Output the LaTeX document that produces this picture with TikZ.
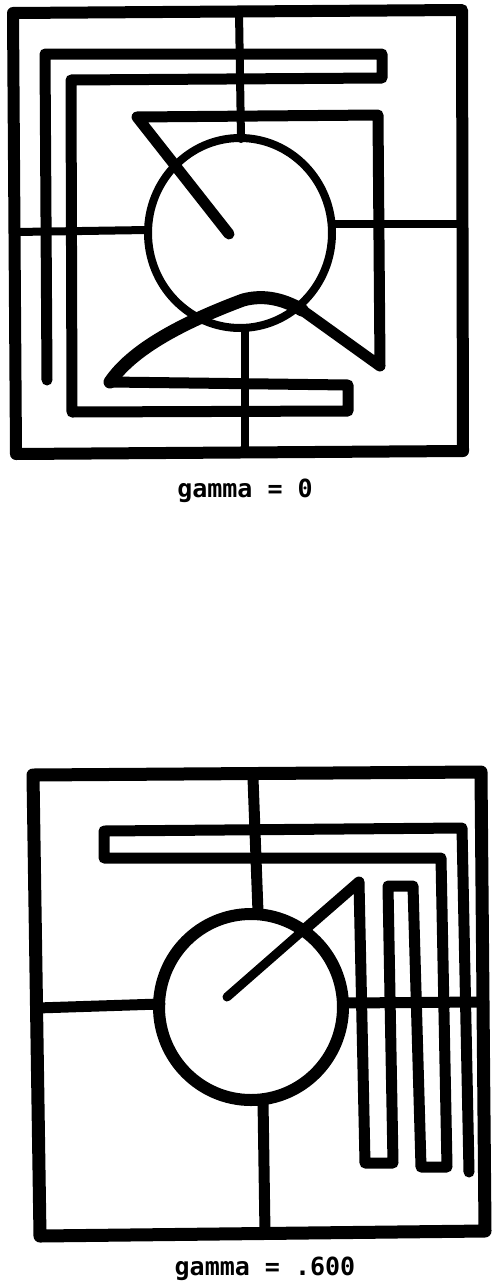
\documentclass[tikz,border=0pt]{standalone}
\usepackage{fontspec}
\newfontfamily\lblfont{DejaVu Sans Mono}
\begin{document}
\begin{tikzpicture}[x=1pt,y=-1pt,
  ink/.style={draw=black,line join=round,line cap=round},
  framestroke/.style={ink,line width=12pt},
  thickstroke/.style={ink,line width=11pt},
  thinstroke/.style={ink,line width=8pt},
  label/.style={inner sep=0pt,anchor=base,font=\lblfont\bfseries\fontsize{25}{29}\selectfont}]
\useasboundingbox[fill=white] (0,0) rectangle (491,1282);
% ---------- top figure (gamma = 0) ----------
\draw[framestroke] (13,13) -- (462,10) -- (463,451) -- (16,454) -- cycle;
\draw[thinstroke] (240,233) ellipse [x radius=92, y radius=95];
\draw[thinstroke] (239,12) -- (241,139);
\draw[thinstroke] (16,232) -- (148,230);
\draw[thinstroke] (332,224) -- (462,224);
\draw[thinstroke] (245,330) -- (245,452);
\draw[thickstroke] (229,234) -- (137,117) -- (378,115) -- (380,366) -- (302,310)
  .. controls (285,300) and (265,294) .. (243,300)
  .. controls (195,318) and (135,345) .. (110,382)
  -- (348,385) -- (348,411) -- (72,412) -- (71,80) -- (382,78) -- (382,54)
  -- (45,54) -- (47,380);
\draw[ink,line width=13pt] (302,310)
  .. controls (285,300) and (265,294) .. (243,300)
  .. controls (195,318) and (135,345) .. (110,382);
\node[label] (lblA) at (245,497) {gamma = 0};
% ---------- bottom figure (gamma = .600) ----------
\draw[framestroke,line width=13pt] (33,775) -- (481,772) -- (485,1231) -- (40,1236) -- cycle;
\draw[ink,line width=12pt] (251,1007) ellipse [x radius=92, y radius=93];
\draw[ink,line width=11pt] (253,778) -- (258,912);
\draw[ink,line width=11pt] (37,1008) -- (160,1004);
\draw[ink,line width=11pt] (343,1003) -- (483,1002);
\draw[ink,line width=11pt] (263,1100) -- (265,1233);
\draw[ink,line width=9pt] (227,997) -- (307,927);
\draw[thickstroke] (305,929) -- (359,882) -- (365,1163) -- (393,1163) -- (388,886)
  -- (413,886) -- (421,1167) -- (447,1167) -- (441,858) -- (104,858) -- (104,831)
  -- (462,828) -- (469,1172);
\node[label] (lblB) at (265,1275) {gamma = .600};
\end{tikzpicture}
\end{document}
